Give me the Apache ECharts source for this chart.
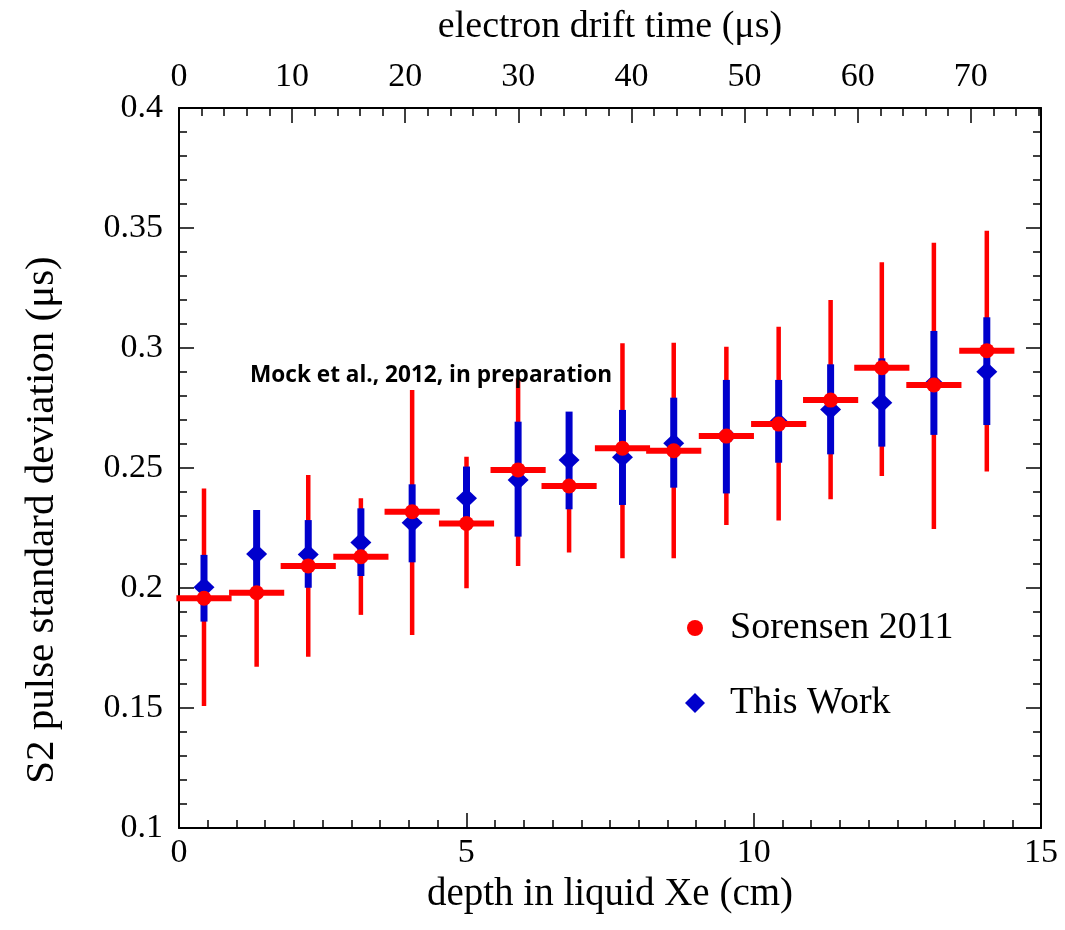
<!DOCTYPE html>
<html><head><meta charset="utf-8">
<script src="https://cdn.jsdelivr.net/npm/echarts@6/dist/echarts.min.js"></script>
<style>html,body{margin:0;padding:0;background:#fff}#c{width:1065px;height:930px}</style>
</head><body><div id="c"></div>
<script>
// depth in liquid Xe (cm) of each bin
const depth = [0.435, 1.351, 2.249, 3.165, 4.057, 5.003, 5.901, 6.788, 7.717, 8.609, 9.525, 10.435, 11.339, 12.23, 13.136, 14.057];
// Sorensen 2011
const sorensenY    = [0.1957, 0.198, 0.2092, 0.213, 0.2318, 0.2269, 0.2492, 0.2425, 0.2582, 0.2572, 0.2633, 0.2683, 0.2783, 0.2918, 0.2846, 0.2989];
const sorensenLow  = [0.1508, 0.1672, 0.1714, 0.1888, 0.1804, 0.1999, 0.2092, 0.2148, 0.2124, 0.2124, 0.2263, 0.2281, 0.237, 0.2467, 0.2246, 0.2485];
const sorensenHigh = [0.2415, 0.229, 0.2471, 0.2374, 0.2825, 0.2547, 0.2874, 0.2702, 0.302, 0.3022, 0.3005, 0.3089, 0.32, 0.3357, 0.3439, 0.3489];
const sorensenXErr = [0.48, 0.48, 0.48, 0.48, 0.48, 0.48, 0.48, 0.48, 0.48, 0.48, 0.48, 0.48, 0.48, 0.48, 0.48, 0.48];
// This Work
const thisWorkY    = [0.2003, 0.2142, 0.214, 0.219, 0.2272, 0.2374, 0.245, 0.2533, 0.2545, 0.2603, 0.2633, 0.269, 0.2744, 0.2772, 0.285, 0.2901];
const thisWorkLow  = [0.186, 0.198, 0.2001, 0.205, 0.2107, 0.2242, 0.2214, 0.2328, 0.2346, 0.2418, 0.2394, 0.2522, 0.2557, 0.2589, 0.2638, 0.2679];
const thisWorkHigh = [0.2138, 0.2325, 0.2283, 0.2332, 0.2432, 0.2506, 0.2693, 0.2735, 0.2742, 0.2793, 0.2867, 0.2867, 0.2932, 0.2957, 0.3071, 0.3128];
// axis ranges
const depthRange = [0, 15];
const driftTimeMax = 76.2;
const yRange = [0.1, 0.4];

const RED = '#ff0000', BLUE = '#0000cc';
const SERIF = 'Liberation Serif';

function vBar(color, width) {
  return function (params, api) {
    const p1 = api.coord([api.value(0), api.value(1)]);
    const p2 = api.coord([api.value(0), api.value(2)]);
    return { type: 'line', shape: { x1: p1[0], y1: p1[1], x2: p2[0], y2: p2[1] },
      style: { stroke: color, lineWidth: width, lineCap: 'butt' } };
  };
}
function hBar(color, width) {
  return function (params, api) {
    const p1 = api.coord([api.value(0), api.value(2)]);
    const p2 = api.coord([api.value(1), api.value(2)]);
    return { type: 'line', shape: { x1: p1[0], y1: p1[1], x2: p2[0], y2: p2[1] },
      style: { stroke: color, lineWidth: width, lineCap: 'butt' } };
  };
}

const tickCommon = { inside: true, length: 15, lineStyle: { color: '#000', width: 1.5 } };
const minorCommon = { show: true, length: 8, lineStyle: { color: '#000', width: 1.5 } };
const lineCommon = { show: true, onZero: false, lineStyle: { color: '#000', width: 2 } };
const labelCommon = { fontFamily: SERIF, fontSize: 34, color: '#000' };
const nameCommon = { fontFamily: SERIF, fontSize: 38, color: '#000' };

const chart = echarts.init(document.getElementById('c'), null, { renderer: 'canvas' });
chart.setOption({
  animation: false,
  backgroundColor: '#fff',
  grid: { left: 179, right: 24, top: 108, bottom: 102, containLabel: false },
  xAxis: [
    { type: 'value', position: 'bottom', min: depthRange[0], max: depthRange[1], interval: 5,
      axisLine: lineCommon, axisTick: tickCommon, minorTick: Object.assign({ splitNumber: 10 }, minorCommon),
      splitLine: { show: false }, axisLabel: Object.assign({ margin: 8 }, labelCommon),
      name: 'depth in liquid Xe (cm)', nameLocation: 'middle', nameGap: 46,
      nameTextStyle: Object.assign({}, nameCommon, { fontSize: 39 }) },
    { type: 'value', position: 'top', min: 0, max: driftTimeMax, interval: 10,
      axisLine: lineCommon, axisTick: tickCommon, splitLine: { show: false },
      axisLabel: Object.assign({ margin: 14, showMaxLabel: false,
        formatter: v => (Math.abs(v % 10) < 1e-6 ? String(Math.round(v)) : '') }, labelCommon),
      name: 'electron drift time (μs)', nameLocation: 'middle', nameGap: 62, nameTextStyle: nameCommon },
    { type: 'value', position: 'top', min: 0, max: driftTimeMax, interval: 2,
      axisLine: { show: false }, axisTick: { inside: true, length: 8, lineStyle: { color: '#000', width: 1.5 } },
      axisLabel: { show: false }, splitLine: { show: false } }
  ],
  yAxis: [
    { type: 'value', position: 'left', min: yRange[0], max: yRange[1], interval: 0.05,
      axisLine: lineCommon, axisTick: tickCommon, minorTick: Object.assign({ splitNumber: 5 }, minorCommon),
      splitLine: { show: false }, axisLabel: Object.assign({ margin: 16 }, labelCommon) },
    { type: 'value', position: 'right', min: yRange[0], max: yRange[1], interval: 0.05,
      axisLine: lineCommon, axisTick: tickCommon, minorTick: Object.assign({ splitNumber: 5 }, minorCommon),
      splitLine: { show: false }, axisLabel: { show: false } }
  ],
  legend: [
    { data: [{ name: 'Sorensen 2011', icon: 'circle' }], left: 687, top: 609, padding: 0,
      itemWidth: 16, itemHeight: 16, selectedMode: false,
      textStyle: { fontFamily: SERIF, fontSize: 38, color: '#000', lineHeight: 38, padding: [0, 0, 0, 22] } },
    { data: [{ name: 'This Work', icon: 'diamond' }], left: 685, top: 684, padding: 0,
      itemWidth: 20, itemHeight: 20, selectedMode: false,
      textStyle: { fontFamily: SERIF, fontSize: 38, color: '#000', lineHeight: 38, padding: [0, 0, 0, 20] } }
  ],
  graphic: [
    { type: 'text', left: 250, top: 364, z: 10,
      style: { text: 'Mock et al., 2012, in preparation', fontFamily: 'Open Sans', fontWeight: 'bold', fontSize: 22.6, fill: '#000' } },
    { type: 'text', x: 42, y: 520, rotation: Math.PI / 2, z: 10,
      style: { text: 'S2 pulse standard deviation (μs)', fontFamily: SERIF, fontSize: 41, fill: '#000',
        textAlign: 'center', textVerticalAlign: 'middle' } }
  ],
  series: [
    { name: 'sorensenErr', type: 'custom', xAxisIndex: 0, yAxisIndex: 0, z: 2,
      renderItem: vBar(RED, 4.5), data: depth.map((x, i) => [x, sorensenLow[i], sorensenHigh[i]]) },
    { name: 'thisWorkErr', type: 'custom', xAxisIndex: 0, yAxisIndex: 0, z: 3,
      renderItem: vBar(BLUE, 7), data: depth.map((x, i) => [x, thisWorkLow[i], thisWorkHigh[i]]) },
    { name: 'This Work', type: 'scatter', xAxisIndex: 0, yAxisIndex: 0, z: 4,
      symbol: 'diamond', symbolSize: [21, 20], itemStyle: { color: BLUE, opacity: 1 },
      data: depth.map((x, i) => [x, thisWorkY[i]]) },
    { name: 'sorensenXErr', type: 'custom', xAxisIndex: 0, yAxisIndex: 0, z: 5,
      renderItem: hBar(RED, 6), data: depth.map((x, i) => [x - sorensenXErr[i], x + sorensenXErr[i], sorensenY[i]]) },
    { name: 'Sorensen 2011', type: 'scatter', xAxisIndex: 0, yAxisIndex: 0, z: 6,
      symbol: 'circle', symbolSize: 15, itemStyle: { color: RED, opacity: 1 },
      data: depth.map((x, i) => [x, sorensenY[i]]) }
  ]
});
</script>
</body></html>
